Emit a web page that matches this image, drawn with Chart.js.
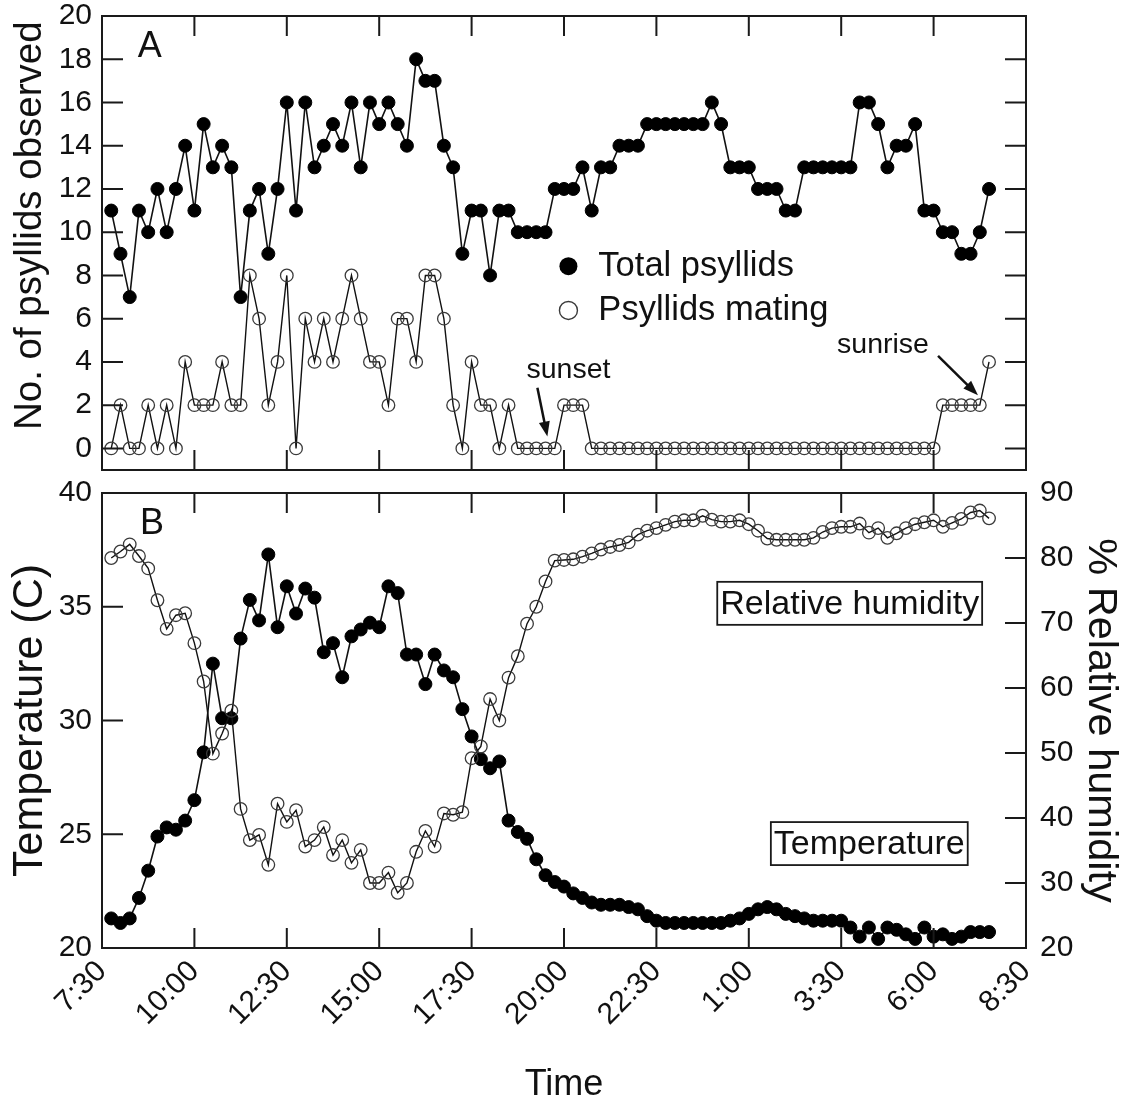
<!DOCTYPE html>
<html>
<head>
<meta charset="utf-8">
<script src="https://cdn.jsdelivr.net/npm/chart.js@4.4.1/dist/chart.umd.min.js"></script>
<style>
  html, body { margin: 0; padding: 0; background: #fff; }
  body { width: 1130px; height: 1103px; position: relative; overflow: hidden; }
  canvas { position: absolute; left: 0; }
  #panelA { top: -12px; }
  #panelB { top: 461px; }
</style>
</head>
<body>
<canvas id="panelA" width="1130" height="510"></canvas>
<canvas id="panelB" width="1130" height="642"></canvas>
<script>
// ==============================
// DATA (one reading every 15 min)
// ==============================
const obsTimes = [
  "7:45","8:00","8:15","8:30","8:45","9:00","9:15","9:30","9:45","10:00","10:15","10:30",
  "10:45","11:00","11:15","11:30","11:45","12:00","12:15","12:30","12:45","13:00","13:15","13:30",
  "13:45","14:00","14:15","14:30","14:45","15:00","15:15","15:30","15:45","16:00","16:15","16:30",
  "16:45","17:00","17:15","17:30","17:45","18:00","18:15","18:30","18:45","19:00","19:15","19:30",
  "19:45","20:00","20:15","20:30","20:45","21:00","21:15","21:30","21:45","22:00","22:15","22:30",
  "22:45","23:00","23:15","23:30","23:45","0:00","0:15","0:30","0:45","1:00","1:15","1:30",
  "1:45","2:00","2:15","2:30","2:45","3:00","3:15","3:30","3:45","4:00","4:15","4:30",
  "4:45","5:00","5:15","5:30","5:45","6:00","6:15","6:30","6:45","7:00","7:15","7:30"
];

const totalPsyllids = [
  11, 9, 7, 11, 10, 12, 10, 12, 14, 11, 15, 13,
  14, 13, 7, 11, 12, 9, 12, 16, 11, 16, 13, 14,
  15, 14, 16, 13, 16, 15, 16, 15, 14, 18, 17, 17,
  14, 13, 9, 11, 11, 8, 11, 11, 10, 10, 10, 10,
  12, 12, 12, 13, 11, 13, 13, 14, 14, 14, 15, 15,
  15, 15, 15, 15, 15, 16, 15, 13, 13, 13, 12, 12,
  12, 11, 11, 13, 13, 13, 13, 13, 13, 16, 16, 15,
  13, 14, 14, 15, 11, 11, 10, 10, 9, 9, 10, 12
];

const matingPsyllids = [
  0, 2, 0, 0, 2, 0, 2, 0, 4, 2, 2, 2,
  4, 2, 2, 8, 6, 2, 4, 8, 0, 6, 4, 6,
  4, 6, 8, 6, 4, 4, 2, 6, 6, 4, 8, 8,
  6, 2, 0, 4, 2, 2, 0, 2, 0, 0, 0, 0,
  0, 2, 2, 2, 0, 0, 0, 0, 0, 0, 0, 0,
  0, 0, 0, 0, 0, 0, 0, 0, 0, 0, 0, 0,
  0, 0, 0, 0, 0, 0, 0, 0, 0, 0, 0, 0,
  0, 0, 0, 0, 0, 0, 2, 2, 2, 2, 2, 4
];

const temperature = [
  21.3, 21.1, 21.3, 22.2, 23.4, 24.9, 25.3, 25.2, 25.6, 26.5, 28.6, 32.5,
  30.1, 30.1, 33.6, 35.3, 34.4, 37.3, 34.1, 35.9, 34.7, 35.8, 35.4, 33.0,
  33.4, 31.9, 33.7, 34.0, 34.3, 34.1, 35.9, 35.6, 32.9, 32.9, 31.6, 32.9,
  32.2, 31.9, 30.5, 29.3, 28.3, 27.9, 28.2, 25.6, 25.1, 24.8, 23.9, 23.2,
  22.9, 22.7, 22.4, 22.2, 22.0, 21.9, 21.9, 21.9, 21.8, 21.7, 21.4, 21.2,
  21.1, 21.1, 21.1, 21.1, 21.1, 21.1, 21.1, 21.2, 21.3, 21.5, 21.7, 21.8,
  21.7, 21.5, 21.4, 21.3, 21.2, 21.2, 21.2, 21.2, 20.9, 20.5, 20.9, 20.4,
  20.9, 20.8, 20.6, 20.4, 20.9, 20.5, 20.6, 20.4, 20.5, 20.7, 20.7, 20.7
];

const humidity = [
  80.0, 81.0, 82.1, 80.3, 78.4, 73.5, 69.1, 71.2, 71.5, 66.9, 61.0, 49.9,
  53.0, 56.5, 41.4, 36.6, 37.4, 32.8, 42.2, 39.4, 41.2, 35.6, 36.6, 38.6,
  34.3, 36.6, 33.1, 35.1, 30.0, 30.0, 31.6, 28.5, 30.0, 34.8, 38.0, 35.6,
  40.7, 40.5, 40.9, 49.2, 51.0, 58.3, 55.0, 61.6, 64.9, 69.9, 72.5, 76.4,
  79.6, 79.7, 79.8, 80.2, 80.7, 81.3, 81.7, 82.0, 82.4, 83.6, 84.2, 84.6,
  85.1, 85.6, 85.8, 85.8, 86.5, 85.9, 85.6, 85.6, 85.8, 85.2, 84.2, 83.0,
  82.8, 82.8, 82.8, 82.8, 83.1, 84.0, 84.6, 84.8, 84.8, 85.3, 83.9, 84.6,
  83.1, 83.8, 84.6, 85.2, 85.5, 85.8, 84.8, 85.4, 86.0, 87.0, 87.3, 86.1
];

const timeTicks = ["7:30","10:00","12:30","15:00","17:30","20:00","22:30","1:00","3:30","6:00","8:30"];
const countTicks = [0, 2, 4, 6, 8, 10, 12, 14, 16, 18, 20];
const tempTicks = [20, 25, 30, 35, 40];
const humidityTicks = [20, 30, 40, 50, 60, 70, 80, 90];

// ==============================
// HELPERS
// ==============================
const FONT = '"Liberation Sans", Arial, Helvetica, sans-serif';
const INK = '#111';

// clock strings -> hours since midnight of day 1 (rolls over past midnight)
function clockToHours(list) {
  let day = 0, prev = -1;
  return list.map(s => {
    const [h, m] = s.split(':').map(Number);
    const v = h + m / 60;
    if (v < prev) day += 24;
    prev = v;
    return v + day;
  });
}

const obsHours = clockToHours(obsTimes);
const tickHours = clockToHours(timeTicks);

const pts = vals => vals.map((v, i) => ({ x: obsHours[i], y: v }));
const fixTicks = list => scale => { scale.ticks = list.map(v => ({ value: v })); };

Chart.defaults.font.family = FONT;
Chart.defaults.color = INK;

// frame + inward tick marks
function drawFrame(chart, sides) {
  const { ctx, chartArea: a, scales } = chart;
  ctx.save();
  ctx.strokeStyle = '#1a1a1a';
  ctx.lineWidth = 2;
  ctx.strokeRect(a.left, a.top, a.right - a.left, a.bottom - a.top);
  ctx.beginPath();
  scales.x.ticks.forEach(t => {
    const px = scales.x.getPixelForValue(t.value);
    ctx.moveTo(px, a.top); ctx.lineTo(px, a.top + 20);
    ctx.moveTo(px, a.bottom); ctx.lineTo(px, a.bottom - 20);
  });
  sides.forEach(([id, side]) => {
    const s = scales[id];
    s.ticks.forEach(t => {
      const py = s.getPixelForValue(t.value);
      const x0 = side === 'left' ? a.left : a.right;
      ctx.moveTo(x0, py);
      ctx.lineTo(x0 + (side === 'left' ? 21 : -21), py);
    });
  });
  ctx.stroke();
  ctx.restore();
}

function arrow(ctx, x1, y1, x2, y2) {
  const ang = Math.atan2(y2 - y1, x2 - x1);
  const hl = 15, hw = 5.5;
  const c = Math.cos(ang), s = Math.sin(ang);
  ctx.beginPath();
  ctx.moveTo(x1, y1);
  ctx.lineTo(x2 - hl * 0.8 * c, y2 - hl * 0.8 * s);
  ctx.stroke();
  ctx.beginPath();
  ctx.moveTo(x2, y2);
  ctx.lineTo(x2 - hl * c + hw * s, y2 - hl * s - hw * c);
  ctx.lineTo(x2 - hl * c - hw * s, y2 - hl * s + hw * c);
  ctx.closePath();
  ctx.fill();
}

function text(ctx, str, x, y, size, align) {
  ctx.font = size + 'px ' + FONT;
  ctx.fillStyle = INK;
  ctx.textAlign = align || 'left';
  ctx.textBaseline = 'middle';
  ctx.fillText(str, x, y);
}

function boxedText(ctx, str, cx, cy, size) {
  ctx.font = size + 'px ' + FONT;
  const w = ctx.measureText(str).width + 6;
  const h = 43;
  ctx.strokeStyle = '#1a1a1a';
  ctx.lineWidth = 1.8;
  ctx.strokeRect(cx - w / 2, cy - h / 2, w, h);
  text(ctx, str, cx, cy + 1, size, 'center');
}

// ==============================
// PANEL A extras
// ==============================
const panelAExtras = {
  id: 'panelAExtras',
  afterDatasetsDraw(chart) {
    drawFrame(chart, [['y', 'left'], ['y', 'right']]);
    const { ctx, chartArea, scales: { x, y } } = chart;
    ctx.save();

    // y title (placed a bit above the axis centre, as in the original)
    ctx.translate(chartArea.left - 72, y.getPixelForValue(10.3));
    ctx.rotate(-Math.PI / 2);
    text(ctx, 'No. of psyllids observed', 0, 0, 38.5, 'center');
    ctx.setTransform(1, 0, 0, 1, 0, 0);

    text(ctx, 'A', x.getPixelForValue(8.47), y.getPixelForValue(18.54), 36);

    // legend
    const lx = x.getPixelForValue(20.12), tx = x.getPixelForValue(20.93);
    const ly1 = y.getPixelForValue(8.43), ly2 = y.getPixelForValue(6.38);
    ctx.fillStyle = '#000';
    ctx.beginPath(); ctx.arc(lx, ly1, 9, 0, Math.PI * 2); ctx.fill();
    ctx.strokeStyle = '#3a3a3a'; ctx.lineWidth = 1.4;
    ctx.beginPath(); ctx.arc(lx, ly2, 9, 0, Math.PI * 2); ctx.stroke();
    text(ctx, 'Total psyllids', tx, ly1, 34.5);
    text(ctx, 'Psyllids mating', tx, ly2, 34.5);

    // sunset / sunrise
    ctx.fillStyle = INK; ctx.strokeStyle = INK; ctx.lineWidth = 2.5;
    text(ctx, 'sunset', x.getPixelForValue(20.12), y.getPixelForValue(3.6), 28.5, 'center');
    arrow(ctx, x.getPixelForValue(19.28), y.getPixelForValue(2.8), x.getPixelForValue(19.55), y.getPixelForValue(0.55));
    text(ctx, 'sunrise', x.getPixelForValue(28.63), y.getPixelForValue(4.78), 28.5, 'center');
    ctx.fillStyle = INK;
    arrow(ctx, x.getPixelForValue(30.12), y.getPixelForValue(4.28), x.getPixelForValue(31.2), y.getPixelForValue(2.46));
    ctx.restore();
  }
};

// ==============================
// PANEL B extras
// ==============================
const panelBExtras = {
  id: 'panelBExtras',
  afterDatasetsDraw(chart) {
    drawFrame(chart, [['y', 'left'], ['rh', 'right']]);
    const { ctx, scales: { x, y } } = chart;
    ctx.save();
    text(ctx, 'B', x.getPixelForValue(8.53), y.getPixelForValue(38.65), 36);
    boxedText(ctx, 'Relative humidity', x.getPixelForValue(27.73), y.getPixelForValue(35.15), 34);
    boxedText(ctx, 'Temperature', x.getPixelForValue(28.26), y.getPixelForValue(24.59), 34);
    ctx.restore();
  }
};

const filledSeries = {
  borderColor: INK, borderWidth: 1.6, tension: 0,
  pointRadius: 6.5, pointBorderWidth: 1, pointBackgroundColor: '#000', pointBorderColor: '#000'
};
const openSeries = {
  borderColor: INK, borderWidth: 1.4, tension: 0,
  pointRadius: 6.3, pointBorderWidth: 1.3, pointBackgroundColor: 'rgba(0,0,0,0)', pointBorderColor: '#3a3a3a'
};
const noGrid = { display: false, drawTicks: false };

const xAxis = (showLabels) => ({
  type: 'linear', min: tickHours[0], max: tickHours[tickHours.length - 1],
  afterBuildTicks: fixTicks(tickHours),
  grid: noGrid, border: { display: false },
  ticks: {
    display: showLabels, autoSkip: false, maxRotation: 45, minRotation: 45,
    font: { size: 30 }, color: INK, padding: 6,
    callback: (v, i) => timeTicks[i]
  },
  title: { display: showLabels, text: 'Time', font: { size: 36, lineHeight: 1 }, color: INK, padding: { top: 0, bottom: 0 } },
  afterFit: s => { s.height = showLabels ? 155 : 25; }
});

// ==============================
// CHART A
// ==============================
new Chart(document.getElementById('panelA'), {
  type: 'line',
  data: {
    datasets: [
      Object.assign({ label: 'Total psyllids', data: pts(totalPsyllids) }, filledSeries),
      Object.assign({ label: 'Psyllids mating', data: pts(matingPsyllids) }, openSeries)
    ]
  },
  options: {
    responsive: false, animation: false, events: [],
    layout: { padding: { top: 25, left: 0, right: 0, bottom: 0 } },
    plugins: { legend: { display: false }, tooltip: { enabled: false } },
    scales: {
      x: xAxis(false),
      y: {
        min: -1, max: 20, afterBuildTicks: fixTicks(countTicks),
        grid: noGrid, border: { display: false },
        ticks: { font: { size: 30 }, color: INK, padding: 10 },
        afterFit: s => { s.width = 102; }
      },
      yr: {
        position: 'right', min: -1, max: 20, afterBuildTicks: fixTicks(countTicks),
        grid: noGrid, border: { display: false }, ticks: { display: false },
        afterFit: s => { s.width = 104; }
      }
    }
  },
  plugins: [panelAExtras]
});

// ==============================
// CHART B
// ==============================
new Chart(document.getElementById('panelB'), {
  type: 'line',
  data: {
    datasets: [
      Object.assign({ label: 'Relative humidity', data: pts(humidity), yAxisID: 'rh' }, openSeries),
      Object.assign({ label: 'Temperature', data: pts(temperature), yAxisID: 'y' }, filledSeries)
    ]
  },
  options: {
    responsive: false, animation: false, events: [],
    layout: { padding: { top: 25, left: 0, right: 0, bottom: 0 } },
    plugins: { legend: { display: false }, tooltip: { enabled: false } },
    scales: {
      x: xAxis(true),
      y: {
        min: 20, max: 40, afterBuildTicks: fixTicks(tempTicks),
        grid: noGrid, border: { display: false },
        ticks: { font: { size: 30 }, color: INK, padding: 10 },
        title: { display: true, text: 'Temperature (C)', font: { size: 43, lineHeight: 1 }, color: INK, padding: { top: 9, bottom: 0 } },
        afterFit: s => { s.width = 102; }
      },
      rh: {
        position: 'right', min: 20, max: 90, afterBuildTicks: fixTicks(humidityTicks),
        grid: noGrid, border: { display: false },
        ticks: { font: { size: 30 }, color: INK, padding: 14 },
        title: { display: true, text: '% Relative humidity', font: { size: 41.5, lineHeight: 1 }, color: INK, padding: { top: 9, bottom: 0 } },
        afterFit: s => { s.width = 104; }
      }
    }
  },
  plugins: [panelBExtras]
});
</script>
</body>
</html>
